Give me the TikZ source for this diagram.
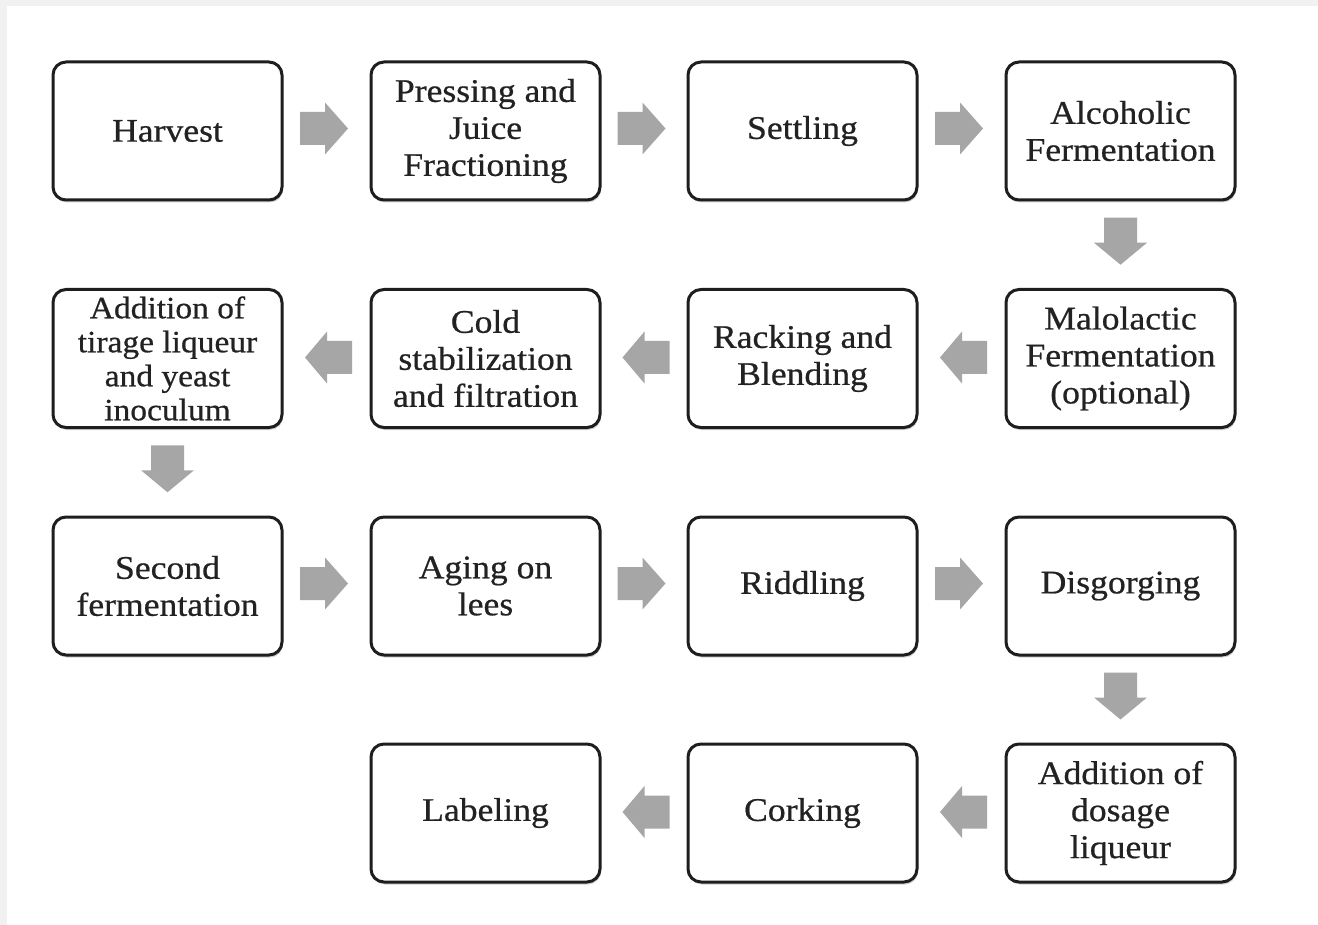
\documentclass[tikz,border=0pt]{standalone}
\usepackage{fontspec}
\setmainfont{Liberation Serif}[FakeStretch=1.08,FakeBold=0.6]
\usetikzlibrary{calc,shadows}
\definecolor{arrowgray}{HTML}{A6A6A6}
\definecolor{boxline}{HTML}{1E1E1E}
\definecolor{stripgray}{HTML}{F1F1F1}
\definecolor{txt}{HTML}{222222}
\tikzset{
  stepbox/.style={draw=boxline, line width=3pt, rounded corners=13pt, fill=white,
    minimum width=229pt, minimum height=138pt, align=center, inner sep=0pt,
    font=\fontsize{33}{37}\selectfont, text=txt,
    drop shadow={shadow xshift=1pt, shadow yshift=-2.5pt, fill=black!30, opacity=0.6}},
  tightbox/.style={font=\fontsize{31}{34}\selectfont},
  blockarrow/.style={fill=arrowgray, draw=none}
}
\newcommand\rightblock[2]{%
  \path[blockarrow] ($(#1.east)!0.5!(#2.west)$) ++(-26.5,-19) -- ++(25,0) -- ++(0,-9.5)
    -- ++(23,26) -- ++(-23,26) -- ++(0,-9.5) -- ++(-25,0) -- cycle;}
\newcommand\leftblock[2]{%
  \path[blockarrow] ($(#2.east)!0.5!(#1.west)$) ++(25.5,-17.5) -- ++(-25,0) -- ++(0,-9.5)
    -- ++(-22,26) -- ++(22,26) -- ++(0,-9.5) -- ++(25,0) -- cycle;}
\newcommand\downblock[2]{%
  \path[blockarrow] ($(#1.south)!0.5!(#2.north)$) ++(-16.5,-27) -- ++(33,0) -- ++(0,25)
    -- ++(10,0) -- ++(-26.5,22) -- ++(-26.5,-22) -- ++(10,0) -- cycle;}
\begin{document}
\begin{tikzpicture}[x=1pt, y=-1pt]
\useasboundingbox (0,0) rectangle (1318,925);
\fill[white] (0,0) rectangle (1318,925);
\fill[stripgray] (0,0) rectangle (1318,6);
\fill[stripgray] (0,0) rectangle (7,925);

% row 1
\node[stepbox] (harvest) at (167.5,131) {Harvest};
\node[stepbox] (pressing) at (485.5,131) {Pressing and\\Juice\\Fractioning};
\node[stepbox] (settling) at (802.5,131) {Settling};
\node[stepbox] (alcoholic) at (1120.5,131) {Alcoholic\\Fermentation};
% row 2
\node[stepbox] (malo) at (1120.5,358.5) {Malolactic\\Fermentation\\(optional)};
\node[stepbox] (racking) at (802.5,358.5) {Racking and\\Blending};
\node[stepbox] (cold) at (485.5,358.5) {Cold\\stabilization\\and filtration};
\node[stepbox, tightbox] (tirage) at (167.5,358.5) {Addition of\\tirage liqueur\\and yeast\\inoculum};
% row 3
\node[stepbox] (second) at (167.5,586) {Second\\fermentation};
\node[stepbox] (aging) at (485.5,586) {Aging on\\lees};
\node[stepbox] (riddling) at (802.5,586) {Riddling};
\node[stepbox] (disgorging) at (1120.5,586) {Disgorging};
% row 4
\node[stepbox] (dosage) at (1120.5,813) {Addition of\\dosage\\liqueur};
\node[stepbox] (corking) at (802.5,813) {Corking};
\node[stepbox] (labeling) at (485.5,813) {Labeling};

% connectors
\rightblock{harvest}{pressing}
\rightblock{pressing}{settling}
\rightblock{settling}{alcoholic}
\downblock{alcoholic}{malo}
\leftblock{malo}{racking}
\leftblock{racking}{cold}
\leftblock{cold}{tirage}
\downblock{tirage}{second}
\rightblock{second}{aging}
\rightblock{aging}{riddling}
\rightblock{riddling}{disgorging}
\downblock{disgorging}{dosage}
\leftblock{dosage}{corking}
\leftblock{corking}{labeling}
\end{tikzpicture}
\end{document}
